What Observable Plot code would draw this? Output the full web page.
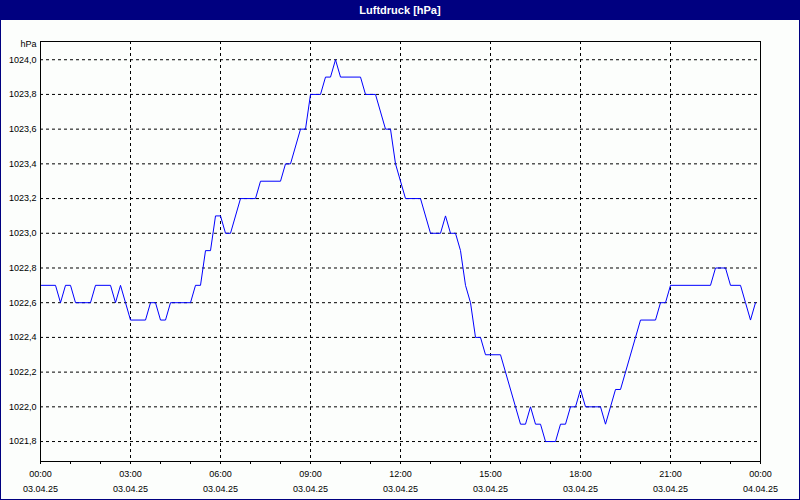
<!DOCTYPE html>
<html><head><meta charset="utf-8">
<script src="https://cdn.jsdelivr.net/npm/d3@7"></script>
<script src="https://cdn.jsdelivr.net/npm/@observablehq/plot@0.6"></script>
<style>
html,body{margin:0;padding:0;background:#fff;}
#frame{width:800px;height:500px;box-sizing:border-box;border:1px solid #000080;border-top:none;background:#fcfefc;overflow:hidden;}
#title{height:20px;background:#000080;color:#fff;font:bold 11px "Liberation Sans",Arial,sans-serif;text-align:center;line-height:20px;}
#chart svg{display:block;}
</style></head>
<body><div id="frame"><div id="title">Luftdruck [hPa]</div><div id="chart"></div></div>
<script>
// time in minutes after 03.04.25 00:00
const minutes = [0,30,40,50,60,70,100,110,140,150,160,170,180,210,220,230,240,250,260,300,
  310,320,330,340,350,360,370,380,400,430,440,480,490,500,520,530,540,560,570,580,590,600,
  640,650,670,690,700,710,720,730,760,780,800,810,820,830,840,850,860,870,880,890,920,950,
  960,970,980,990,1000,1010,1030,1040,1050,1060,1070,1080,1090,1120,1130,1140,1150,1160,
  1200,1230,1240,1250,1260,1340,1350,1370,1380,1400,1410,1420,1430];
const hpa = [1022.7,1022.7,1022.6,1022.7,1022.7,1022.6,1022.6,1022.7,1022.7,1022.6,1022.7,1022.6,1022.5,1022.5,1022.6,1022.6,1022.5,1022.5,1022.6,1022.6,
  1022.7,1022.7,1022.9,1022.9,1023.1,1023.1,1023.0,1023.0,1023.2,1023.2,1023.3,1023.3,1023.4,1023.4,1023.6,1023.6,1023.8,1023.8,1023.9,1023.9,1024.0,1023.9,
  1023.9,1023.8,1023.8,1023.6,1023.6,1023.4,1023.3,1023.2,1023.2,1023.0,1023.0,1023.1,1023.0,1023.0,1022.9,1022.7,1022.6,1022.4,1022.4,1022.3,1022.3,1022.0,
  1021.9,1021.9,1022.0,1021.9,1021.9,1021.8,1021.8,1021.9,1021.9,1022.0,1022.0,1022.1,1022.0,1022.0,1021.9,1022.0,1022.1,1022.1,
  1022.5,1022.5,1022.6,1022.6,1022.7,1022.7,1022.8,1022.8,1022.7,1022.7,1022.6,1022.5,1022.6];

const yTicks = [1021.8,1022.0,1022.2,1022.4,1022.6,1022.8,1023.0,1023.2,1023.4,1023.6,1023.8,1024.0];
const yTickLabels = ["1021,8","1022,0","1022,2","1022,4","1022,6","1022,8","1023,0","1023,2","1023,4","1023,6","1023,8","1024,0"];
const yUnit = "hPa";
const xTicks = [0,180,360,540,720,900,1080,1260,1440];
const xTimeLabels = ["00:00","03:00","06:00","09:00","12:00","15:00","18:00","21:00","00:00"];
const xDateLabels = ["03.04.25","03.04.25","03.04.25","03.04.25","03.04.25","03.04.25","03.04.25","03.04.25","04.04.25"];
const hourTicks = [0,60,120,180,240,300,360,420,480,540,600,660,720,780,840,900,960,1020,1080,1140,1200,1260,1320,1380,1440];
const gridXTicks = [180,360,540,720,900,1080,1260];

const data = minutes.map((t, i) => ({t, v: hpa[i]}));

const chart = Plot.plot({
  width: 798,
  height: 479,
  marginLeft: 39,
  marginRight: 39,
  marginTop: 21,
  marginBottom: 38,
  style: {fontFamily: '"Liberation Sans", Arial, sans-serif', fontSize: "9px", color: "#000", background: "transparent", overflow: "visible"},
  x: {domain: [0, 1440]},
  y: {domain: [1021.685, 1024.105]},
  marks: [
    Plot.gridY(yTicks, {stroke: "#000", strokeOpacity: 1, strokeDasharray: "3,3"}),
    Plot.gridX(gridXTicks, {stroke: "#000", strokeOpacity: 1, strokeDasharray: "3,3"}),
    Plot.line(data, {x: "t", y: "v", stroke: "#0000ff", strokeWidth: 1}),
    Plot.frame({stroke: "#000", strokeWidth: 1}),
    Plot.axisY({ticks: yTicks, tickSize: 0, tickPadding: 4, tickFormat: d => yTickLabels[yTicks.indexOf(d)], label: null}),
    Plot.text([yUnit], {frameAnchor: "top-left", text: d => d, textAnchor: "end", lineAnchor: "middle", dx: -4, dy: 3, fill: "#000"}),
    Plot.axisX({ticks: hourTicks, tickSize: 3, tickFormat: () => "", label: null}),
    Plot.axisX({ticks: xTicks, tickSize: 0, tickPadding: 9, tickFormat: d => xTimeLabels[xTicks.indexOf(d)], label: null}),
    Plot.axisX({ticks: xTicks, tickSize: 0, tickPadding: 24, tickFormat: d => xDateLabels[xTicks.indexOf(d)], label: null})
  ]
});
document.getElementById("chart").appendChild(chart);
</script>
</body></html>
